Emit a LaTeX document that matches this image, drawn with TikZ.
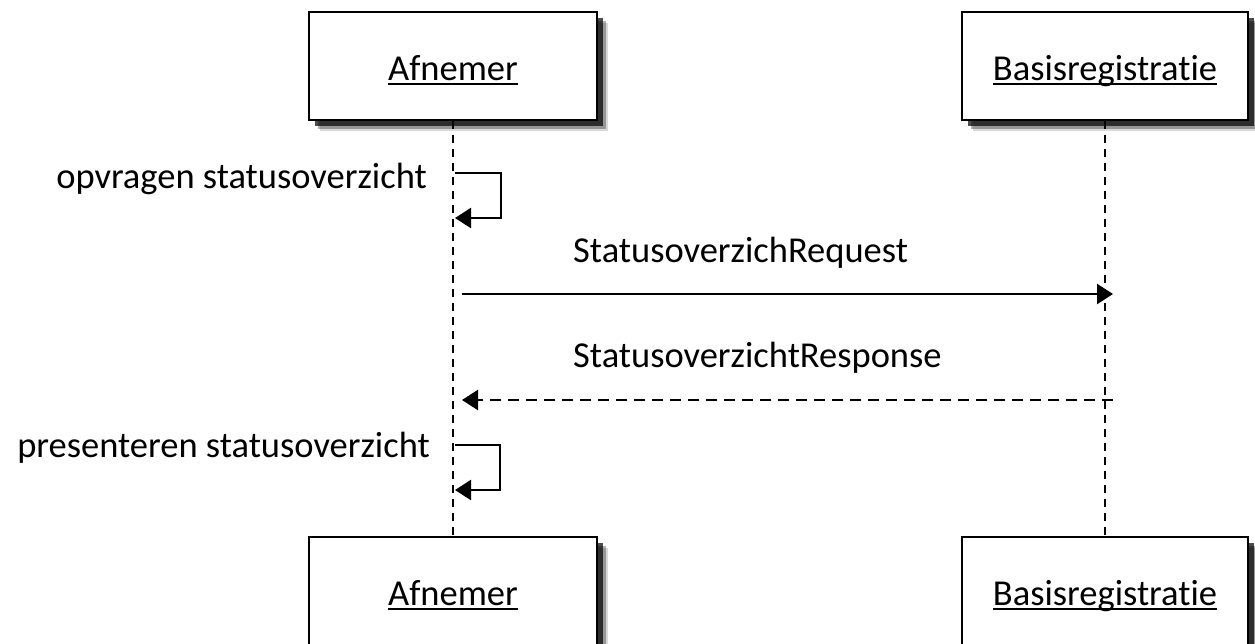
\documentclass[tikz,border=0pt]{standalone}
\usepackage{fontspec}
\setmainfont{Carlito}[Ligatures=NoCommon]
\usetikzlibrary{arrows.meta,shadows}
\newcommand\thickul[1]{\vtop{\hbox{\raisebox{0pt}[\height][0pt]{#1}}\kern2.5pt\hrule height 2.6pt}}
\begin{document}
\begin{tikzpicture}[x=1pt,y=-1pt,
  every node/.style={font=\fontsize{36.5}{44}\selectfont},
  actor/.style={draw,line width=2.5pt,fill=white,inner sep=0pt,minimum height=108pt,
    text height=32pt,text depth=4pt,
    drop shadow={shadow xshift=11pt,shadow yshift=-11pt,opacity=0.15,fill=black},
    drop shadow={shadow xshift=9pt,shadow yshift=-9pt,opacity=0.3,fill=black},
    drop shadow={shadow xshift=6pt,shadow yshift=-6pt,opacity=0.7,fill=black}},
  life/.style={line width=2.6pt,dash pattern=on 8pt off 6pt},
  msg/.style={line width=2.4pt,-{Triangle[length=16pt,width=20pt]}},
  reply/.style={line width=2.4pt,dash pattern=on 11pt off 7pt,-{Triangle[length=16pt,width=20pt]}},
  lbl/.style={inner sep=0pt}]
\clip (0,0) rectangle (1255,643);
\fill[white] (0,0) rectangle (1255,643);
% actors
\node[actor,minimum width=288pt] (at) at (453,66) {\thickul{Afnemer}};
\node[actor,minimum width=286pt] (bt) at (1105,66) {\thickul{Basisregistratie}};
\node[actor,minimum width=288pt] (ab) at (453,591) {\thickul{Afnemer}};
\node[actor,minimum width=286pt] (bb) at (1105,591) {\thickul{Basisregistratie}};
% lifelines
\draw[life] (at.south) -- (ab.north);
\draw[life] (bt.south) -- (bb.north);
% self message 1
\coordinate (s1a) at (455,173);
\coordinate (s1b) at (501,218);
\coordinate (s1c) at (455,218);
\draw[msg] (s1a) -| (s1b) -- (s1c);
\node[lbl,anchor=base east] (l1) at (427,188) {opvragen statusoverzicht};
% request
\coordinate (rq1) at (462,294);
\coordinate (rq2) at (1113,294);
\draw[msg] (rq1) -- (rq2);
\node[lbl,anchor=base west] (l2) at (573,262) {StatusoverzichRequest};
% response
\coordinate (rs1) at (1113,400);
\coordinate (rs2) at (462,400);
\draw[reply] (rs1) -- (rs2);
\node[lbl,anchor=base west] (l3) at (573,367) {StatusoverzichtResponse};
% self message 2
\coordinate (s2a) at (455,445);
\coordinate (s2b) at (500,490);
\coordinate (s2c) at (455,490);
\draw[msg] (s2a) -| (s2b) -- (s2c);
\node[lbl,anchor=base east] (l4) at (430,457) {presenteren statusoverzicht};
\end{tikzpicture}
\end{document}
